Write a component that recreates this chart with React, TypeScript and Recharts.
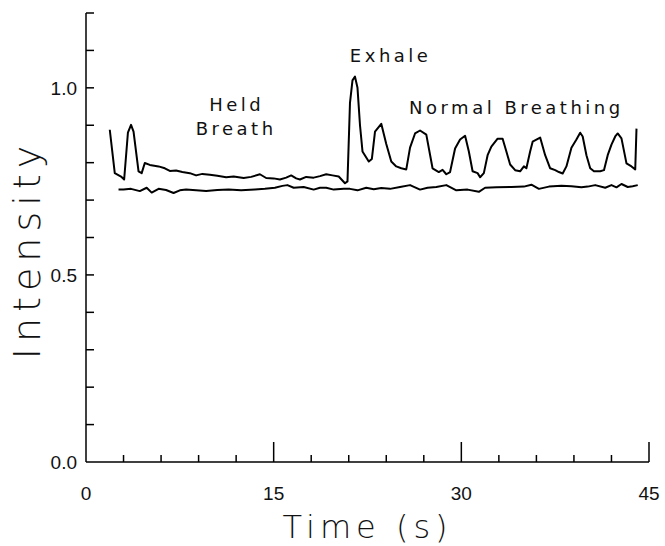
import React from "react";
import { LineChart, Line, XAxis, YAxis, ReferenceDot } from "recharts";

// Upper trace (breathing signal)
const breathT = [
  1.9, 2.3, 2.8, 3.05, 3.35, 3.6, 3.8, 4.2, 4.45, 4.7, 5.1, 5.8, 6.3, 6.7, 7.2, 7.7, 8.3, 8.8, 9.3, 9.9,
  10.5, 11.2, 11.8, 12.6, 13.2, 13.9, 14.4, 15.0, 15.5, 16.0, 16.4, 16.8, 17.1, 17.6, 18.2, 18.7, 19.2, 19.7,
  20.2, 20.7, 20.9, 21.1, 21.3, 21.5, 21.7, 21.9, 22.1, 22.6, 22.85, 23.1, 23.6, 24.0, 24.4, 24.8, 25.2, 25.6,
  25.9, 26.3, 26.7, 27.2, 27.7, 28.2, 28.5, 28.8, 29.1, 29.5, 29.9, 30.3, 30.6, 30.9, 31.3, 31.5, 31.8, 32.1,
  32.4, 32.9, 33.3, 33.6, 33.9, 34.3, 34.7, 35.0, 35.2, 35.5, 35.7, 36.3, 36.7, 37.1, 37.5, 37.8, 38.1, 38.4,
  38.8, 39.2, 39.5, 39.7, 40.0, 40.3, 40.6, 41.1, 41.4, 41.7, 42.0, 42.3, 42.5, 42.8, 43.2, 43.6, 43.9, 44.0,
];
const breathV = [
  0.888, 0.772, 0.763, 0.755, 0.88, 0.901, 0.883, 0.777, 0.772, 0.799, 0.794, 0.79, 0.785, 0.778, 0.779, 0.775,
  0.772, 0.766, 0.77, 0.768, 0.765, 0.761, 0.763, 0.759, 0.762, 0.769, 0.759, 0.758, 0.755, 0.76, 0.766, 0.758,
  0.755, 0.762, 0.76, 0.764, 0.769, 0.766, 0.763, 0.745, 0.75, 0.96, 1.02, 1.03, 1.0, 0.9, 0.83, 0.803, 0.81,
  0.883, 0.904, 0.85, 0.803, 0.79, 0.785, 0.782, 0.84, 0.878, 0.886, 0.875, 0.785, 0.775, 0.781, 0.769, 0.775,
  0.838, 0.862, 0.872, 0.83, 0.777, 0.772, 0.761, 0.772, 0.82, 0.843, 0.864, 0.864, 0.83, 0.795, 0.78, 0.777,
  0.79, 0.785, 0.83, 0.856, 0.867, 0.82, 0.785, 0.78, 0.775, 0.771, 0.79, 0.84, 0.862, 0.88, 0.87, 0.82, 0.785,
  0.777, 0.777, 0.78, 0.82, 0.848, 0.87, 0.878, 0.865, 0.798, 0.79, 0.782, 0.891,
];

// Lower trace (reference level)
const baseT = [
  2.6, 3.0, 3.6, 4.3, 4.85, 5.25, 5.8, 6.4, 7.0, 7.5, 8.0, 8.8, 9.6, 10.5, 11.4, 12.4, 13.5, 14.3, 15.1, 15.7,
  16.1, 16.6, 17.4, 18.2, 18.7, 19.2, 19.8, 20.6, 21.1, 21.7, 22.4, 23.0, 23.6, 24.3, 25.1, 25.9, 26.7, 27.3,
  28.0, 28.8, 29.6, 30.5, 31.4, 31.9, 32.8, 34.0, 35.0, 35.6, 36.2, 37.0, 38.0, 38.8, 39.6, 40.1, 40.7, 41.5,
  42.0, 42.4, 42.8, 43.3, 43.7, 44.1,
];
const baseV = [
  0.728, 0.728, 0.73, 0.724, 0.733, 0.72, 0.73, 0.727, 0.719, 0.726, 0.728, 0.726, 0.724, 0.727, 0.728, 0.726,
  0.728, 0.73, 0.733, 0.738, 0.74, 0.733, 0.735, 0.728, 0.733, 0.733, 0.728, 0.73, 0.73, 0.726, 0.733, 0.729,
  0.732, 0.73, 0.735, 0.74, 0.728, 0.733, 0.735, 0.74, 0.726, 0.728, 0.722, 0.733, 0.734, 0.735, 0.736, 0.741,
  0.73, 0.736, 0.738, 0.737, 0.734, 0.736, 0.74, 0.733, 0.74, 0.734, 0.743, 0.735, 0.737, 0.74,
];

// Axis ticks
const xTicks = [0, 3, 6, 9, 12, 15, 18, 21, 24, 27, 30, 33, 36, 39, 42, 45];
const xLabels = [0, 15, 30, 45];
const yTicks = [0, 0.1, 0.2, 0.3, 0.4, 0.5, 0.6, 0.7, 0.8, 0.9, 1.0, 1.1, 1.2];
const yLabels = ["0.0", "0.5", "1.0"];

// Annotations: [text, time, intensity]
const notes: [string, number, number][] = [
  ["Held", 12.05, 0.955],
  ["Breath", 12.0, 0.891],
  ["Exhale", 24.35, 1.087],
  ["Normal Breathing", 34.4, 0.948],
];

const FONT = "'DejaVu Sans', 'Liberation Sans', sans-serif";
const TICKFONT = "'Liberation Sans', 'DejaVu Sans', sans-serif";
const TITLE_WEIGHT = 200;

const breathData = breathT.map((t, i) => ({ t, v: breathV[i] }));
const baseData = baseT.map((t, i) => ({ t, v: baseV[i] }));

const XTick = (props: any) => {
  const { x, y, payload } = props;
  const val = payload.value;
  const labeled = xLabels.includes(val);
  const len = val === 0 ? 0 : labeled ? 20 : 7;
  return (
    <g>
      {len > 0 && <line x1={x} x2={x} y1={y} y2={y - len} stroke="#000" strokeWidth={1.5} />}
      {labeled && (
        <text x={x} y={y + 38} textAnchor="middle" fontFamily={TICKFONT} fontSize={19} fill="#111">
          {String(val)}
        </text>
      )}
    </g>
  );
};

const YTick = (props: any) => {
  const { x, y, payload } = props;
  const val = payload.value;
  const txt = val.toFixed(1);
  const labeled = yLabels.includes(txt);
  return (
    <g>
      {val !== 0 && <line x1={x} x2={x + 8} y1={y} y2={y} stroke="#000" strokeWidth={1.5} />}
      {labeled && (
        <text x={x - 9} y={y + 7} textAnchor="end" fontFamily={TICKFONT} fontSize={19} fill="#111">
          {txt}
        </text>
      )}
    </g>
  );
};

const noteLabel = (text: string) => (props: any) => {
  const vb = props.viewBox || {};
  const cx = (vb.x || 0) + (vb.width || 0) / 2;
  const cy = (vb.y || 0) + (vb.height || 0) / 2;
  return (
    <text
      x={cx}
      y={cy + 6.5}
      textAnchor="middle"
      fontFamily={FONT}
      fontSize={18}
      letterSpacing={3.5}
      fill="#111"
    >
      {text}
    </text>
  );
};

export default function App() {
  return (
    <div style={{ position: "absolute", left: 0, top: 0, width: 665, height: 546, background: "#fff" }}>
      <LineChart
        width={665}
        height={546}
        margin={{ top: 13, right: 16, bottom: 0, left: 0 }}
      >
        <XAxis
          type="number"
          dataKey="t"
          domain={[0, 45]}
          ticks={xTicks}
          interval={0}
          allowDataOverflow
          height={84}
          tickSize={0}
          tickMargin={0}
          tickLine={false}
          axisLine={{ stroke: "#000", strokeWidth: 1.5 }}
          tick={<XTick />}
        />
        <YAxis
          type="number"
          dataKey="v"
          domain={[0, 1.2]}
          ticks={yTicks}
          interval={0}
          width={86}
          tickSize={0}
          tickMargin={0}
          tickLine={false}
          axisLine={{ stroke: "#000", strokeWidth: 1.5 }}
          tick={<YTick />}
        />
        <Line
          data={baseData}
          dataKey="v"
          type="linear"
          stroke="#000"
          strokeWidth={2}
          dot={false}
          isAnimationActive={false}
          strokeLinejoin="round"
        />
        <Line
          data={breathData}
          dataKey="v"
          type="linear"
          stroke="#000"
          strokeWidth={2}
          dot={false}
          isAnimationActive={false}
          strokeLinejoin="round"
        />
        {notes.map(([txt, t, v]) => (
          <ReferenceDot
            key={txt}
            x={t}
            y={v}
            r={0}
            fill="none"
            stroke="none"
            ifOverflow="visible"
            label={noteLabel(txt)}
          />
        ))}
      </LineChart>
      <svg
        width={665}
        height={546}
        style={{ position: "absolute", left: 0, top: 0, pointerEvents: "none" }}
      >
        <text
          x={40}
          y={249.5}
          transform="rotate(-90, 40, 249.5)"
          textAnchor="middle"
          fontFamily={FONT}
          fontWeight={TITLE_WEIGHT}
          fontSize={38}
          letterSpacing={6}
          fill="#111"
        >
          Intensity
        </text>
        <text
          x={367.5}
          y={538}
          textAnchor="middle"
          fontFamily={FONT}
          fontWeight={TITLE_WEIGHT}
          fontSize={32}
          letterSpacing={5}
          fill="#111"
        >
          Time (s)
        </text>
      </svg>
    </div>
  );
}
